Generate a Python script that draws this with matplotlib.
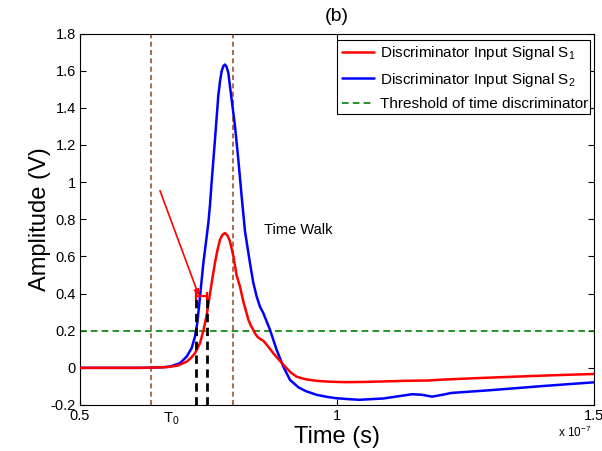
import matplotlib
matplotlib.use("Agg")
import matplotlib.pyplot as plt
from matplotlib.patches import Rectangle

plt.rcParams['font.family'] = ['Liberation Sans', 'DejaVu Sans']
plt.rcParams['mathtext.fontset'] = 'custom'
plt.rcParams['mathtext.rm'] = 'Liberation Sans'
plt.rcParams['mathtext.it'] = 'Liberation Sans:italic'

# time in units of 1e-7 s
t_s1 = [0.50, 0.62, 0.67, 0.69, 0.708, 0.716, 0.7237, 0.7335, 0.740, 0.7465, 0.753, 0.758, 0.7626,
        0.7675, 0.7724, 0.777, 0.782, 0.787, 0.7918, 0.7985, 0.8045, 0.811, 0.8175, 0.824, 0.8275,
        0.832, 0.837, 0.8405, 0.846, 0.852, 0.857, 0.866, 0.876, 0.888, 0.899, 0.91, 0.921, 0.93,
        0.94, 0.955, 0.97, 0.99, 1.017, 1.05, 1.08, 1.13, 1.178, 1.20, 1.275, 1.35, 1.42, 1.50]
s1 = [0.0, 0.0, 0.004, 0.012, 0.034, 0.054, 0.079, 0.133, 0.200, 0.285, 0.400, 0.49, 0.565,
      0.635, 0.690, 0.716, 0.726, 0.712, 0.681, 0.60, 0.50, 0.44, 0.36, 0.295, 0.259,
      0.23, 0.205, 0.185, 0.165, 0.153, 0.145, 0.115, 0.079, 0.04, 0.007, -0.025, -0.047, -0.055,
      -0.062, -0.068, -0.072, -0.075, -0.077, -0.076, -0.074, -0.070, -0.068,
      -0.064, -0.055, -0.047, -0.040, -0.033]

t_s2 = [0.50, 0.62, 0.66, 0.675, 0.6946, 0.7076, 0.7172, 0.7237, 0.7282, 0.7335, 0.740, 0.7465,
        0.7497, 0.753, 0.756, 0.7626, 0.769, 0.7725, 0.7756, 0.779, 0.782, 0.785, 0.7885, 0.795,
        0.8016, 0.808, 0.8145, 0.821, 0.8307, 0.837, 0.8437, 0.85, 0.8566, 0.8696, 0.8826, 0.8955,
        0.9086, 0.925, 0.939, 0.96, 0.98, 0.997, 1.02, 1.043, 1.09, 1.146, 1.165, 1.185, 1.205,
        1.223, 1.30, 1.40, 1.494, 1.50]
s2 = [0.0, 0.0, 0.003, 0.007, 0.025, 0.061, 0.106, 0.169, 0.241, 0.384, 0.564, 0.708,
      0.78, 0.88, 0.996, 1.229, 1.463, 1.545, 1.598, 1.625, 1.633, 1.622, 1.589, 1.445,
      1.30, 1.121, 0.923, 0.735, 0.564, 0.46, 0.384, 0.33, 0.295, 0.205, 0.097, 0.007,
      -0.065, -0.105, -0.125, -0.145, -0.156, -0.163, -0.168, -0.172, -0.165, -0.142, -0.145,
      -0.155, -0.145, -0.135, -0.120, -0.098, -0.079, -0.078]

threshold = 0.2
brown_lines = [0.638, 0.798]
black_lines = [0.7266, 0.7463]
walk_level = 0.385
arrow_start = (0.6556, 0.954)
arrow_end = (0.731, 0.39)

labels = [r'Discriminator Input Signal $\mathrm{S}_1$',
          r'Discriminator Input Signal $\mathrm{S}_2$',
          'Threshold of time discriminator']

fig = plt.figure(figsize=(6.02, 4.51), dpi=100)
ax = fig.add_axes([0.1329, 0.102, 0.8538, 0.8237])

l1, = ax.plot(t_s1, s1, color='red', lw=1.8, label=labels[0], zorder=4,
              solid_joinstyle='round', solid_capstyle='round')
l2, = ax.plot(t_s2, s2, color='blue', lw=1.8, label=labels[1], zorder=3,
              solid_joinstyle='round', solid_capstyle='round')
l3 = ax.axhline(threshold, color='#008000', lw=1.2, ls=(0, (4, 2.5)), label=labels[2], zorder=2)

for xb in brown_lines:
    ax.axvline(xb, color='#A0522D', lw=1.2, ls=(0, (3, 2)), zorder=1)

for xk in black_lines:
    ax.plot([xk, xk], [-0.2, walk_level], color='black', lw=2.0, ls=(0, (3, 2)), zorder=5)

ax.errorbar([(black_lines[0] + black_lines[1]) / 2], [walk_level],
            xerr=[(black_lines[1] - black_lines[0]) / 2], color='red', lw=1.6,
            capsize=3, capthick=1.6, zorder=6)

ax.annotate('', xy=arrow_end, xytext=arrow_start,
            arrowprops=dict(arrowstyle='-|>', color='red', lw=1.2,
                            mutation_scale=8, shrinkA=0, shrinkB=0), zorder=6)

ax.text(0.858, 0.74, 'Time Walk', fontsize=10.5, va='center', ha='left')

ax.set_xlim(0.5, 1.5)
ax.set_ylim(-0.2, 1.8)
ax.set_xticks([0.5, 1, 1.5])
ax.set_xticklabels(['0.5', '1', '1.5'])
ax.set_yticks([-0.2, 0, 0.2, 0.4, 0.6, 0.8, 1, 1.2, 1.4, 1.6, 1.8])
ax.set_yticklabels(['-0.2', '0', '0.2', '0.4', '0.6', '0.8', '1', '1.2', '1.4', '1.6', '1.8'])
ax.tick_params(direction='in', top=True, right=True, labelsize=10.5, length=4, pad=3)
ax.set_xlabel('Time (s)', fontsize=17, labelpad=2)
ax.set_ylabel('Amplitude (V)', fontsize=17, labelpad=0)
ax.set_title('(b)', fontsize=14, pad=9)

ax.text(0.661, -0.015, r'T$_0$', transform=ax.get_xaxis_transform(), fontsize=10.5,
        ha='left', va='top')
fig.text(0.927, 0.025, r'x 10$^{-7}$', fontsize=8.5, ha='left', va='bottom')

leg = ax.legend(handles=[l1, l2, l3], loc='upper left', bbox_to_anchor=(0.5, 0.985),
                fontsize=11, frameon=False, handlelength=2.1, handletextpad=0.35,
                borderaxespad=0, labelspacing=0.55, borderpad=0.35)
# legend frame fixed in pixel coords, texts clipped to it
x0, x1 = 337, 590
y0, y1 = 451 - 114, 451 - 40
frame = Rectangle((x0 / 602, y0 / 451), (x1 - x0) / 602, (y1 - y0) / 451,
                  transform=fig.transFigure, facecolor='white', edgecolor='black',
                  lw=0.8, zorder=9)
ax.add_artist(frame)
frame.set_clip_on(False)
leg.set_zorder(10)
clip = Rectangle((x0 / 602, y0 / 451), (x1 - x0) / 602, (y1 - y0) / 451,
                 transform=fig.transFigure)
for txt in leg.get_texts():
    txt.set_clip_path(clip)
    txt.set_clip_on(True)

fig.savefig('out.png', dpi=100)
